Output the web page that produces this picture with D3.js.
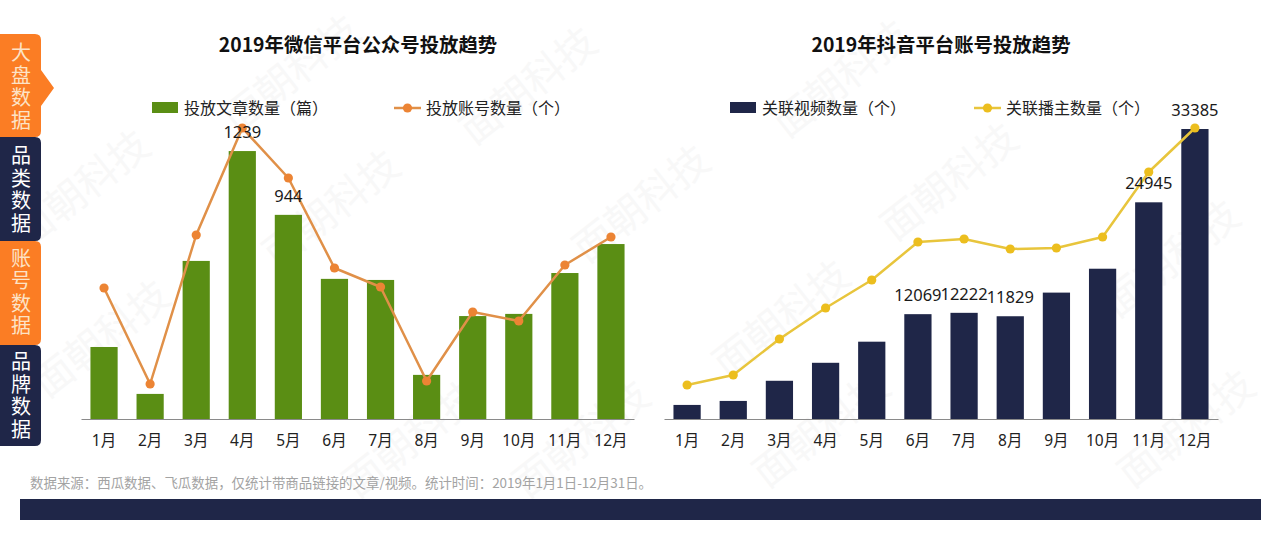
<!DOCTYPE html>
<html>
<head>
<meta charset="utf-8">
<script src="https://cdn.jsdelivr.net/npm/d3@7"></script>
<style>
  html, body { margin: 0; padding: 0; background: #fff; overflow: hidden; }
  svg { display: block; font-family: "Noto Sans CJK SC", "Noto Sans", sans-serif; }
</style>
</head>
<body>
<div id="container"></div>
<script>
const months = ["1月", "2月", "3月", "4月", "5月", "6月", "7月", "8月", "9月", "10月", "11月", "12月"];

// 微信 chart, the account line has its own hidden axis
const articleCounts = [333, 116, 731, 1239, 944, 648, 643, 204, 476, 486, 675, 809];
const accountCounts = [131, 35, 184, 291, 241, 151, 132, 38, 107, 98, 154, 182];
const articleLabels = { "4月": 1239, "5月": 944 };

// 抖音 chart
const videoCounts = [1620, 2080, 4400, 6470, 8900, 12069, 12222, 11829, 14550, 17300, 24945, 33385];
const anchorCounts = [34, 44, 80, 111, 139, 177, 180, 170, 171, 182, 247, 291];
const videoLabels = { "6月": 12069, "7月": 12222, "8月": 11829, "11月": 24945, "12月": 33385 };

const tabNames = ["大盘数据", "品类数据", "账号数据", "品牌数据"];
const sourceNote = "数据来源：西瓜数据、飞瓜数据，仅统计带商品链接的文章/视频。统计时间：2019年1月1日-12月31日。";
const watermark = "面朝科技";

const width = 1280;
const height = 534;
const navy = "#1f2648";
const baseline = 419;

const svg = d3.create("svg")
  .attr("width", width)
  .attr("height", height);

// faint watermark behind everything
const marks = [[537, 97], [650, 215], [958, 193], [1180, 270], [790, 330], [340, 220],
  [90, 200], [110, 350], [590, 450], [1195, 440], [850, 90], [300, 85], [420, 450], [830, 440]];
svg.append("g")
  .attr("fill", "#f8f8f8")
  .attr("font-size", 40)
  .attr("text-anchor", "middle")
  .selectAll()
  .data(marks)
  .join("text")
  .attr("transform", d => `translate(${d[0]},${d[1]}) rotate(-38)`)
  .text(watermark);

function drawChart(cfg) {
  const x = d3.scaleBand()
    .domain(months)
    .range([cfg.left, cfg.right])
    .paddingInner(0.41)
    .paddingOuter(0.205);

  const yBar = d3.scaleLinear()
    .domain([0, cfg.barMax])
    .range([baseline, baseline - 290]);

  const yLine = d3.scaleLinear()
    .domain([0, 291])
    .range([baseline, baseline - 291]);

  const g = svg.append("g");

  g.append("text")
    .attr("x", cfg.titleX)
    .attr("y", 45)
    .attr("dy", "0.35em")
    .attr("text-anchor", "middle")
    .attr("font-size", 19.4)
    .attr("font-weight", 700)
    .attr("fill", "#111")
    .text(cfg.title);

  g.append("g")
    .attr("fill", cfg.barColor)
    .selectAll()
    .data(cfg.bars)
    .join("rect")
    .attr("x", (d, i) => x(months[i]))
    .attr("y", d => yBar(d))
    .attr("width", x.bandwidth())
    .attr("height", d => yBar(0) - yBar(d));

  const axis = g.append("g")
    .attr("transform", `translate(0,${baseline})`)
    .call(d3.axisBottom(x).tickSize(0).tickPadding(16));
  axis.select(".domain").attr("stroke", "#8a8a8a").attr("stroke-width", 1.2);
  axis.selectAll("text")
    .attr("font-size", 15.5)
    .attr("font-family", '"Noto Sans", "Noto Sans CJK SC", sans-serif')
    .attr("fill", "#222");

  const line = d3.line()
    .x((d, i) => x(months[i]) + x.bandwidth() / 2)
    .y(d => yLine(d));

  g.append("path")
    .datum(cfg.line)
    .attr("fill", "none")
    .attr("stroke", cfg.lineColor)
    .attr("stroke-width", 2.5)
    .attr("stroke-linejoin", "round")
    .attr("d", line);

  g.append("g")
    .attr("fill", cfg.dotColor)
    .selectAll()
    .data(cfg.line)
    .join("circle")
    .attr("cx", (d, i) => x(months[i]) + x.bandwidth() / 2)
    .attr("cy", d => yLine(d))
    .attr("r", 4.6);

  g.append("g")
    .attr("font-size", 16.5)
    .attr("font-family", '"Noto Sans", sans-serif')
    .attr("fill", "#1a1a1a")
    .attr("text-anchor", "middle")
    .selectAll()
    .data(Object.entries(cfg.labels))
    .join("text")
    .attr("x", d => x(d[0]) + x.bandwidth() / 2)
    .attr("y", d => yBar(d[1]) - 19)
    .attr("dy", "0.35em")
    .text(d => d[1]);

  // legend
  const legend = g.append("g")
    .attr("font-size", 16)
    .attr("fill", "#222");
  legend.append("rect")
    .attr("x", cfg.legendBar)
    .attr("y", 102)
    .attr("width", 26)
    .attr("height", 11)
    .attr("fill", cfg.barColor);
  legend.append("text")
    .attr("x", cfg.legendBar + 32)
    .attr("y", 108)
    .attr("dy", "0.35em")
    .text(cfg.barName);
  legend.append("line")
    .attr("x1", cfg.legendLine)
    .attr("x2", cfg.legendLine + 27)
    .attr("y1", 108)
    .attr("y2", 108)
    .attr("stroke", cfg.lineColor)
    .attr("stroke-width", 2.5);
  legend.append("circle")
    .attr("cx", cfg.legendLine + 13.5)
    .attr("cy", 108)
    .attr("r", 4.6)
    .attr("fill", cfg.dotColor);
  legend.append("text")
    .attr("x", cfg.legendLine + 32)
    .attr("y", 108)
    .attr("dy", "0.35em")
    .text(cfg.lineName);
}

drawChart({
  title: "2019年微信平台公众号投放趋势",
  titleX: 358,
  left: 81,
  right: 634,
  bars: articleCounts,
  barMax: 1341,
  line: accountCounts,
  labels: articleLabels,
  barColor: "#5a8e14",
  lineColor: "#e09048",
  dotColor: "#ec8434",
  barName: "投放文章数量（篇）",
  lineName: "投放账号数量（个）",
  legendBar: 152,
  legendLine: 394
});

drawChart({
  title: "2019年抖音平台账号投放趋势",
  titleX: 941,
  left: 664,
  right: 1218,
  bars: videoCounts,
  barMax: 33385,
  line: anchorCounts,
  labels: videoLabels,
  barColor: navy,
  lineColor: "#e8c53c",
  dotColor: "#ecbe1e",
  barName: "关联视频数量（个）",
  lineName: "关联播主数量（个）",
  legendBar: 730,
  legendLine: 974
});

// side tabs, each label is one vertical text
const tabTops = [34, 137, 241, 345];
const tabHeights = [103, 104, 104, 101];
const tabMids = [87.5, 190.5, 293, 396.5];
const tabs = svg.append("g");
tabNames.forEach((name, i) => {
  const orange = i % 2 === 0;
  const top = tabTops[i];
  const h = tabHeights[i];
  const p = d3.path();
  p.moveTo(0, top);
  p.lineTo(35, top);
  p.quadraticCurveTo(41, top, 41, top + 6);
  if (i === 0) {
    p.lineTo(41, 70);
    p.lineTo(54, 88);
    p.lineTo(41, 106);
  }
  p.lineTo(41, top + h - 6);
  p.quadraticCurveTo(41, top + h, 35, top + h);
  p.lineTo(0, top + h);
  p.closePath();
  tabs.append("path")
    .attr("d", p.toString())
    .attr("fill", orange ? "#fb7d24" : navy);
  tabs.append("text")
    .attr("x", 21)
    .attr("y", tabMids[i])
    .attr("text-anchor", "middle")
    .attr("font-size", 20)
    .attr("fill", orange ? "#fde3c6" : "#fff")
    .style("writing-mode", "vertical-rl")
    .style("text-orientation", "upright")
    .style("letter-spacing", "2.5px")
    .text(name);
});

svg.append("text")
  .attr("x", 30)
  .attr("y", 483)
  .attr("dy", "0.35em")
  .attr("font-size", 13.45)
  .attr("fill", "#a3a3a3")
  .text(sourceNote);

svg.append("rect")
  .attr("x", 20)
  .attr("y", 499)
  .attr("width", 1241)
  .attr("height", 21)
  .attr("fill", navy);

d3.select("#container").append(() => svg.node());
</script>
</body>
</html>
